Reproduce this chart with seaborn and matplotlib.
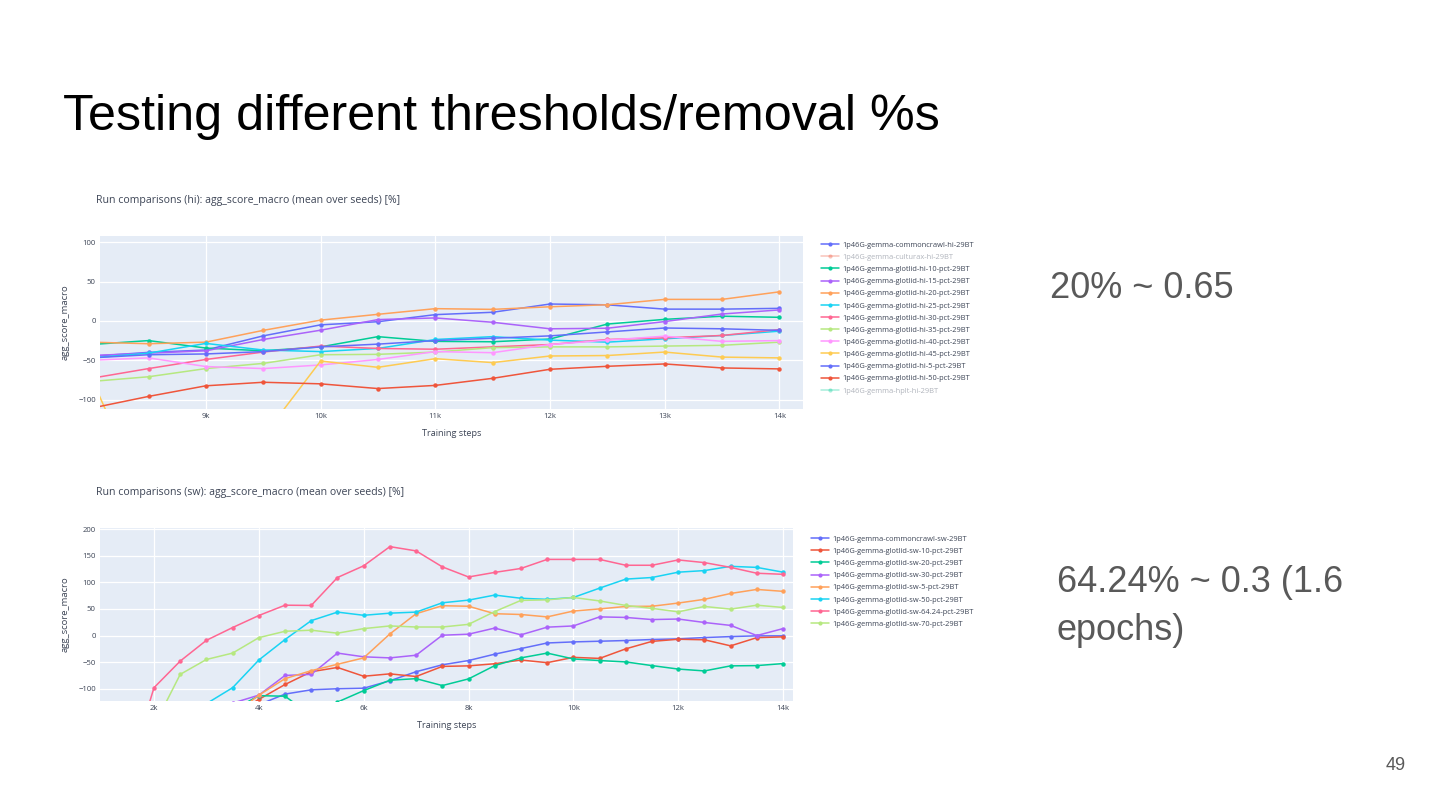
import numpy as np
import matplotlib
matplotlib.use("Agg")
import matplotlib.pyplot as plt
from matplotlib.lines import Line2D
import seaborn as sns

nan = np.nan

# ---------------- data: hi ----------------
steps_hi = [8000, 8500, 9000, 9500, 10000, 10500, 11000, 11500, 12000, 12500, 13000, 13500, 14000]
hi_commoncrawl = [-45, -40, -37, -19, -5, -1, 8, 11, 21.5, 20.5, 15, 15, 16]
hi_10 = [-30, -25, -34.5, -38, -33, -20, -26, -26.5, -23, -4, 2, 6, 4.6]
hi_15 = [-44, -41, -38, -23.6, -11.8, 1.7, 3.8, -1.7, -10, -9.3, -0.8, 8.8, 14]
hi_20 = [-27, -29, -27, -12, 1, 8.4, 15.6, 14.7, 18, 20.6, 27.4, 27.4, 37]
hi_25 = [-47, -41, -28.6, -37, -39, -35, -23.6, -20, -24.4, -27, -22.7, -18.5, -13]
hi_30 = [-73, -60.6, -49, -39.6, -32, -35, -36, -33, -30, -23.6, -21.5, -18.5, -11]
hi_35 = [-77, -71, -60.6, -54, -43, -42.5, -39.6, -34, -33, -33, -32, -31, -27]
hi_40 = [-50, -47, -58, -60.6, -56, -49, -39, -40.4, -30, -24.4, -19.4, -26, -25]
hi_45 = [-72, -235, -200, -147, -51, -59, -48, -53, -44.6, -44, -39.6, -46, -47]
hi_5 = [-47, -43, -42, -39, -33, -29.5, -25, -22, -19, -14, -9, -10, -12]
hi_50 = [-111, -96, -82.5, -78, -80, -86, -82, -73, -61.5, -57.7, -54.7, -59.8, -61]

hi_names = ["1p46G-gemma-commoncrawl-hi-29BT", "1p46G-gemma-culturax-hi-29BT",
            "1p46G-gemma-glotlid-hi-10-pct-29BT", "1p46G-gemma-glotlid-hi-15-pct-29BT",
            "1p46G-gemma-glotlid-hi-20-pct-29BT", "1p46G-gemma-glotlid-hi-25-pct-29BT",
            "1p46G-gemma-glotlid-hi-30-pct-29BT", "1p46G-gemma-glotlid-hi-35-pct-29BT",
            "1p46G-gemma-glotlid-hi-40-pct-29BT", "1p46G-gemma-glotlid-hi-45-pct-29BT",
            "1p46G-gemma-glotlid-hi-5-pct-29BT", "1p46G-gemma-glotlid-hi-50-pct-29BT",
            "1p46G-gemma-hplt-hi-29BT"]
hi_values = [hi_commoncrawl, None, hi_10, hi_15, hi_20, hi_25, hi_30, hi_35, hi_40, hi_45, hi_5, hi_50, None]
hi_colors = ["#636EFA", "#EF553B", "#00CC96", "#AB63FA", "#FFA15A", "#19D3F3", "#FF6692",
             "#B6E880", "#FF97FF", "#FECB52", "#636EFA", "#EF553B", "#00CC96"]
hi_xticks = [9000, 10000, 11000, 12000, 13000, 14000]
hi_xticklabels = ["9k", "10k", "11k", "12k", "13k", "14k"]
hi_yticks = [-100, -50, 0, 50, 100]

# ---------------- data: sw ----------------
steps_sw = [1500, 2000, 2500, 3000, 3500, 4000, 4500, 5000, 5500, 6000, 6500, 7000, 7500,
            8000, 8500, 9000, 9500, 10000, 10500, 11000, 11500, 12000, 12500, 13000, 13500, 14000]
sw_commoncrawl = [nan, nan, nan, nan, nan, -130, -110, -102, -100, -99, -85, -68, -55,
                  -47, -35, -24.5, -14, -12, -10.7, -9.4, -7.5, -6.3, -3.8, -2, -0.6, -0.6]
sw_10 = [nan, nan, nan, nan, -150, -120, -92, -68, -60, -76.5, -72, -77, -58,
         -57, -53, -46, -51, -41, -43, -25, -11, -7, -8, -19.4, -4, -2.5]
sw_20 = [nan, nan, nan, nan, -140, -113, -114, -150, -125, -103.5, -84, -81, -94,
         -81.5, -56.5, -42, -33, -44, -47, -49.6, -56.5, -63, -66.5, -57, -56.5, -52.7]
sw_30 = [nan, nan, nan, nan, -127, -112, -75, -73, -33, -40, -42, -37, 0.6,
         2.5, 14, 1.3, 15.7, 18, 35, 34, 30, 31, 24.5, 19, 0, 13]
sw_5 = [nan, nan, nan, nan, -150, -112, -81, -66, -54, -42, 3, 41, 56,
        55, 41, 39.5, 35, 46, 50, 54.6, 55, 61, 68, 79, 86.6, 83]
sw_50 = [nan, nan, -170, -128, -98, -46, -7.5, 28, 44, 38, 42, 44, 61.5,
         66.5, 76, 70, 68, 71.5, 89, 106, 109, 119, 122, 130, 128, 119]
sw_6424 = [-260, -98, -48, -9, 15, 37.6, 57, 56.5, 109, 131, 167, 159, 129,
           110, 118.6, 126, 143, 143, 143, 132, 132, 142, 137, 128, 117, 115]
sw_70 = [nan, -170, -73, -45, -33, -4, 8, 10, 4.4, 13, 18, 16, 16,
         21, 45, 66, 67, 71.5, 65, 56.5, 51, 44.5, 54.6, 49.6, 57, 52.7]

sw_names = ["1p46G-gemma-commoncrawl-sw-29BT", "1p46G-gemma-glotlid-sw-10-pct-29BT",
            "1p46G-gemma-glotlid-sw-20-pct-29BT", "1p46G-gemma-glotlid-sw-30-pct-29BT",
            "1p46G-gemma-glotlid-sw-5-pct-29BT", "1p46G-gemma-glotlid-sw-50-pct-29BT",
            "1p46G-gemma-glotlid-sw-64.24-pct-29BT", "1p46G-gemma-glotlid-sw-70-pct-29BT"]
sw_values = [sw_commoncrawl, sw_10, sw_20, sw_30, sw_5, sw_50, sw_6424, sw_70]
sw_colors = ["#636EFA", "#EF553B", "#00CC96", "#AB63FA", "#FFA15A", "#19D3F3", "#FF6692", "#B6E880"]
sw_xticks = [2000, 4000, 6000, 8000, 10000, 12000, 14000]
sw_xticklabels = ["2k", "4k", "6k", "8k", "10k", "12k", "14k"]
sw_yticks = [-100, -50, 0, 50, 100, 150, 200]

# ---------------- slide texts ----------------
slide_title = "Testing different thresholds/removal %s"
note_hi = "20% ~ 0.65"
note_sw_1 = "64.24% ~ 0.3 (1.6"
note_sw_2 = "epochs)"
page_no = "49"
title_hi = "Run comparisons (hi): agg_score_macro (mean over seeds) [%]"
title_sw = "Run comparisons (sw): agg_score_macro (mean over seeds) [%]"

# ---------------- drawing ----------------
sns.set_theme(style="white")
plt.rcParams["font.family"] = ["Open Sans", "DejaVu Sans"]

W, H = 1440, 810
fig = plt.figure(figsize=(W / 100, H / 100), dpi=100)
fig.patch.set_facecolor("white")

TXT = "#3d4556"
BG = "#E5ECF6"


def px_axes(l, t, r, b):
    return fig.add_axes([l / W, 1 - b / H, (r - l) / W, (b - t) / H])


def style_axes(ax, xlim, ylim, xticks, xtl, yticks):
    ax.set_facecolor(BG)
    for s in ax.spines.values():
        s.set_visible(False)
    ax.set_xlim(*xlim)
    ax.set_ylim(*ylim)
    ax.set_xticks(xticks)
    ax.set_xticklabels(xtl)
    ax.set_yticks(yticks)
    ax.set_yticklabels([("\u2212" + str(abs(v))) if v < 0 else str(v) for v in yticks])
    ax.grid(True, color="white", linewidth=0.9)
    ax.set_axisbelow(True)
    ax.tick_params(axis="both", length=0, labelsize=5.6, labelcolor=TXT, pad=3)
    ax.set_xlabel("Training steps", fontsize=6.6, color=TXT, labelpad=6)
    ax.set_ylabel("agg_score_macro", fontsize=6.8, color=TXT, labelpad=6)


def draw(ax, steps, values, colors, names):
    handles = []
    for vals, col, name in zip(values, colors, names):
        if vals is None:
            handles.append(Line2D([0], [0], color=col, alpha=0.35, lw=1.1, marker="o",
                                  markersize=3, markeredgewidth=0))
            continue
        x = [s for s, v in zip(steps, vals) if not np.isnan(v)]
        y = [v for v in vals if not np.isnan(v)]
        sns.lineplot(x=x, y=y, ax=ax, color=col, marker="o", markersize=3.2,
                     markeredgewidth=0, linewidth=1.1, errorbar=None, label=name)
        handles.append(Line2D([0], [0], color=col, lw=1.1, marker="o",
                              markersize=3, markeredgewidth=0))
    if ax.get_legend() is not None:
        ax.get_legend().remove()
    return handles


LEG = dict(loc="upper left", frameon=False, fontsize=5.45, handlelength=2.4,
           handletextpad=0.45, labelspacing=0.64, borderpad=0, borderaxespad=0)

# hi chart
ax1 = px_axes(100, 236, 803, 409)
style_axes(ax1, (8077, 14206), (-112, 108), hi_xticks, hi_xticklabels, hi_yticks)
h1 = draw(ax1, steps_hi, hi_values, hi_colors, hi_names)
leg1 = fig.legend(h1, hi_names, bbox_to_anchor=(821 / W, 1 - 241.5 / H), **LEG)
for i, t in enumerate(leg1.get_texts()):
    t.set_color("#b0b4bc" if hi_values[i] is None else TXT)

# sw chart
ax2 = px_axes(100, 528, 793, 701)
style_axes(ax2, (970, 14190), (-123, 202), sw_xticks, sw_xticklabels, sw_yticks)
h2 = draw(ax2, steps_sw, sw_values, sw_colors, sw_names)
leg2 = fig.legend(h2, sw_names, bbox_to_anchor=(811 / W, 1 - 535.5 / H), **LEG)
for t in leg2.get_texts():
    t.set_color(TXT)

# chart titles
fig.text(96 / W, 1 - 200 / H, title_hi, fontsize=7.6, color=TXT, va="center", ha="left")
fig.text(96 / W, 1 - 493 / H, title_sw, fontsize=7.6, color=TXT, va="center", ha="left")

# slide texts
SLIDE = ["Liberation Sans", "DejaVu Sans"]
fig.text(63 / W, 1 - 117 / H, slide_title, fontsize=36.2, color="black", va="center",
         ha="left", family=SLIDE)
fig.text(1050 / W, 1 - 288 / H, note_hi, fontsize=26, color="#595959", va="center",
         ha="left", family=SLIDE)
fig.text(1057 / W, 1 - 583 / H, note_sw_1, fontsize=26, color="#595959", va="center",
         ha="left", family=SLIDE)
fig.text(1057 / W, 1 - 630 / H, note_sw_2, fontsize=26, color="#595959", va="center",
         ha="left", family=SLIDE)
fig.text(1406 / W, 1 - 765 / H, page_no, fontsize=13, color="#595959", va="center",
         ha="right", family=SLIDE)

fig.savefig("out.png", dpi=100, facecolor="white")
